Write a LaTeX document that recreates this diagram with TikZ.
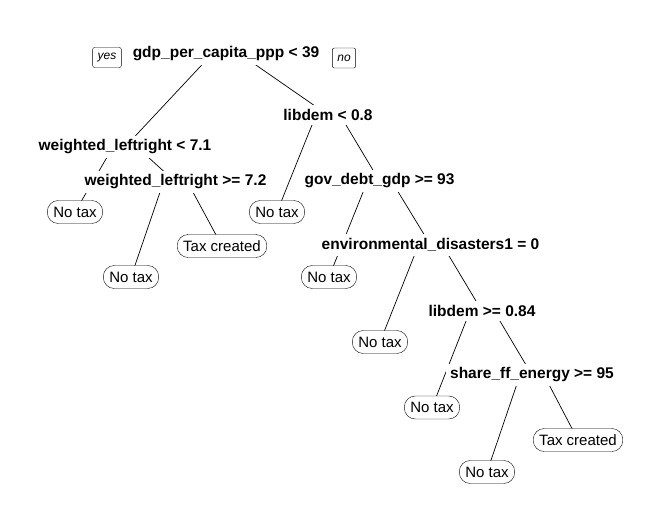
\documentclass[tikz,border=0pt]{standalone}
\usepackage{fontspec}
\setmainfont{Liberation Sans}
\pgfdeclarelayer{bg}
\pgfsetlayers{bg,main}
\tikzset{
  split/.style={font=\fontsize{15.5}{17}\selectfont\bfseries, fill=white, inner sep=4pt},
  leaf/.style={draw, fill=white, rounded corners=11pt, font=\fontsize{15}{17}\selectfont,
    minimum height=23pt, inner xsep=6pt, inner ysep=0pt},
  tag/.style={draw, rounded corners=2pt, font=\fontsize{12}{14}\selectfont\itshape,
    minimum height=20pt, inner xsep=5pt, inner ysep=0pt},
  branch/.style={line width=0.7pt},
}

\begin{document}
\begin{tikzpicture}[x=1pt,y=-1pt]
        \useasboundingbox (0,0) rectangle (664,520);
        % splits
        \node[split] (root) at (226,54) {gdp\_per\_capita\_ppp < 39};
        \node[tag] (yes) at (107,57.5) {yes};
        \node[tag] (no) at (344,58) {no};
        \node[split] (wl1) at (125,147) {weighted\_leftright < 7.1};
        \node[split] (ld1) at (328,115) {libdem < 0.8};
        \node[split] (wl2) at (175.5,182) {weighted\_leftright >= 7.2};
        \node[split] (gd) at (379.5,181) {gov\_debt\_gdp >= 93};
        \node[split] (env) at (430.5,245) {environmental\_disasters1 = 0};
        \node[split] (ld2) at (482,311) {libdem >= 0.84};
        \node[split] (share) at (532,375) {share\_ff\_energy >= 95};
        % leaves
        \node[leaf] (leaf1) at (75,212) {No tax};
        \node[leaf] (leaf2) at (131,277) {No tax};
        \node[leaf] (leaf3) at (222,246) {Tax created};
        \node[leaf] (leaf4) at (277,212) {No tax};
        \node[leaf] (leaf5) at (329,277) {No tax};
        \node[leaf] (leaf6) at (380,342) {No tax};
        \node[leaf] (leaf7) at (432,407.5) {No tax};
        \node[leaf] (leaf8) at (487,472) {No tax};
        \node[leaf] (leaf9) at (578,440) {Tax created};
        % branches
        \begin{pgfonlayer}{bg}
            \draw[branch] ([xshift=-14pt]root.center) -- (wl1.center);
            \draw[branch] ([xshift=14pt]root.center) -- (ld1.center);
            \draw[branch] ([xshift=-12pt]wl1.center) -- (leaf1.center);
            \draw[branch] ([xshift=12pt]wl1.center) -- (wl2.center);
            \draw[branch] ([xshift=-12pt]wl2.center) -- (leaf2.center);
            \draw[branch] ([xshift=12pt]wl2.center) -- (leaf3.center);
            \draw[branch] ([xshift=-12pt]ld1.center) -- (leaf4.center);
            \draw[branch] ([xshift=12pt]ld1.center) -- (gd.center);
            \draw[branch] ([xshift=-12pt]gd.center) -- (leaf5.center);
            \draw[branch] ([xshift=12pt]gd.center) -- (env.center);
            \draw[branch] ([xshift=-12pt]env.center) -- (leaf6.center);
            \draw[branch] ([xshift=12pt]env.center) -- (ld2.center);
            \draw[branch] ([xshift=-12pt]ld2.center) -- (leaf7.center);
            \draw[branch] ([xshift=12pt]ld2.center) -- (share.center);
            \draw[branch] ([xshift=-12pt]share.center) -- (leaf8.center);
            \draw[branch] ([xshift=12pt]share.center) -- (leaf9.center);
        \end{pgfonlayer}
\end{tikzpicture}
\end{document}
